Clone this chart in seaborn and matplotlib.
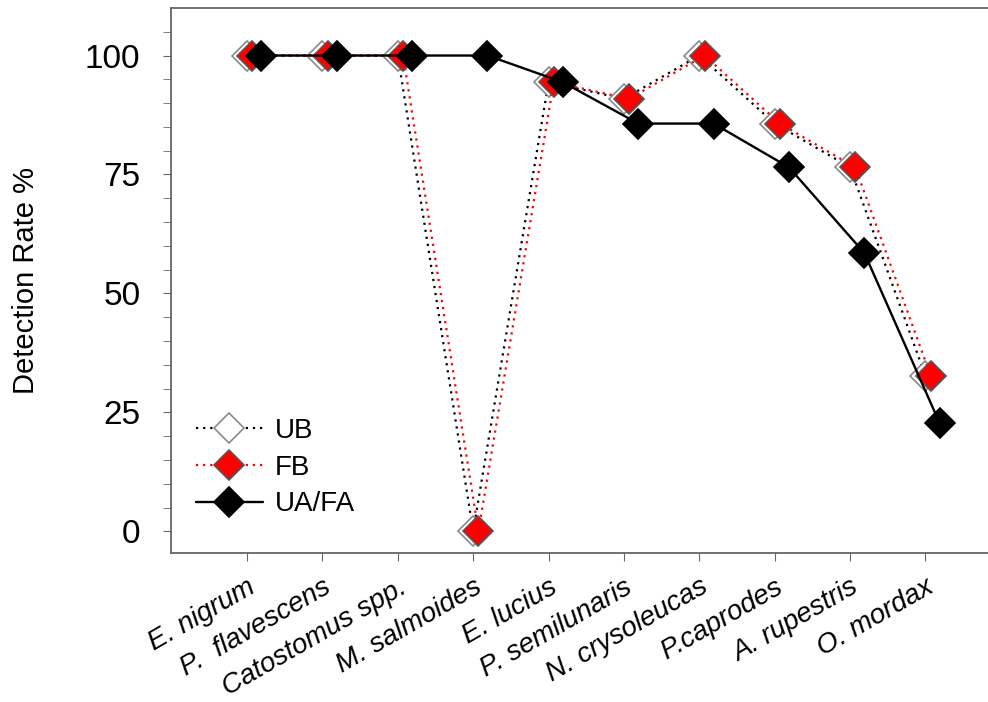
import numpy as np
import pandas as pd
import matplotlib
matplotlib.use("Agg")
import matplotlib.pyplot as plt
from matplotlib.ticker import MultipleLocator
import seaborn as sns

species = ["E. nigrum", "P.  flavescens", "Catostomus spp.", "M. salmoides", "E. lucius",
           "P. semilunaris", "N. crysoleucas", "P.caprodes", "A. rupestris", "O. mordax"]
ub = [100, 100, 100, 0, 94.4, 90.9, 100, 85.7, 76.5, 32.7]
fb = [100, 100, 100, 0, 94.4, 90.9, 100, 85.7, 76.5, 32.7]
ua_fa = [100, 100, 100, 100, 94.4, 85.7, 85.7, 76.5, 58.5, 22.7]

sns.set_style("ticks")
plt.rcParams["font.family"] = ["Liberation Sans", "DejaVu Sans"]
plt.rcParams["text.color"] = "black"
plt.rcParams["axes.labelcolor"] = "black"
plt.rcParams["xtick.labelcolor"] = "black"
plt.rcParams["ytick.labelcolor"] = "black"

fig = plt.figure(figsize=(9.88, 7.02), dpi=100)
ax = fig.add_axes([0.173, 0.212, 0.83, 0.776])

pos = np.arange(len(species))
series = [
    ("UB", ub, 0.0, dict(color="black", linestyle=(0, (1, 2.2)), linewidth=1.6,
                          markerfacecolor="white", markeredgecolor="#8a8a8a")),
    ("FB", fb, 0.07, dict(color="red", linestyle=(0, (1, 2.2)), linewidth=1.6,
                           markerfacecolor="red", markeredgecolor="#555555")),
    ("UA/FA", ua_fa, 0.19, dict(color="black", linestyle="-", linewidth=1.7,
                                 markerfacecolor="black", markeredgecolor="black")),
]

handles = []
for name, vals, off, style in series:
    df = pd.DataFrame({"x": pos + off, "y": vals})
    sns.lineplot(data=df, x="x", y="y", ax=ax, marker="D", markersize=15,
                 markeredgewidth=1.2, label=name, legend=False, **style)
    handles.append(ax.lines[-1])

ax.set_xlim(-1.01, 9.87)
ax.set_ylim(-4.6, 109.9)
ax.set_xticks(pos)
ax.set_xticklabels(species, rotation=30, ha="right", rotation_mode="anchor",
                   fontsize=20, style="italic")
ax.set_yticks([0, 25, 50, 75, 100])
ax.yaxis.set_minor_locator(MultipleLocator(5))
ax.tick_params(axis="y", labelsize=24, length=6, color="#666666", pad=16)
ax.tick_params(axis="y", which="minor", length=6, color="#666666")
ax.tick_params(axis="x", length=6, color="#666666", pad=9)
ax.set_xlabel("")
ax.set_ylabel("Detection Rate %", fontsize=21)
ax.yaxis.set_label_coords(-0.16, 0.5)

for s in ["left", "bottom", "top"]:
    ax.spines[s].set_color("#666666")
    ax.spines[s].set_linewidth(1.3)
ax.spines["right"].set_visible(False)

ax.legend(handles=handles, labels=["UB", "FB", "UA/FA"], loc="lower left",
          bbox_to_anchor=(0.0, 0.02), frameon=False, fontsize=20,
          handlelength=2.4, handletextpad=0.45, labelspacing=0.38)

fig.savefig("out.png", dpi=100)
